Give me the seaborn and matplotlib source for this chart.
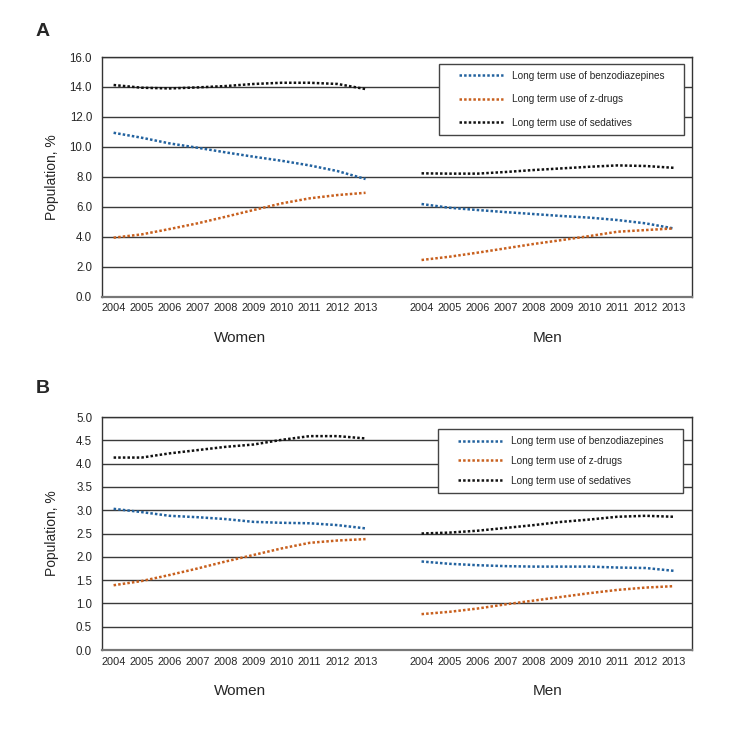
import matplotlib
matplotlib.use("Agg")
import matplotlib.pyplot as plt
import pandas as pd
import seaborn as sns
from matplotlib.patches import Rectangle

years = list(range(2004, 2014))
sexes = ["Women", "Men"]
series = [
    "Long term use of benzodiazepines",
    "Long term use of z-drugs",
    "Long term use of sedatives",
]
colors = ["#22629f", "#c8601e", "#111111"]

# panel A
a_women_benzo = [10.94, 10.61, 10.23, 9.94, 9.63, 9.34, 9.07, 8.76, 8.38, 7.85]
a_women_z = [3.93, 4.15, 4.51, 4.89, 5.33, 5.78, 6.22, 6.56, 6.78, 6.93]
a_women_sed = [14.13, 13.95, 13.90, 13.97, 14.06, 14.20, 14.28, 14.28, 14.20, 13.86]
a_men_benzo = [6.18, 5.93, 5.78, 5.64, 5.51, 5.38, 5.27, 5.11, 4.89, 4.55]
a_men_z = [2.44, 2.66, 2.93, 3.22, 3.51, 3.77, 4.04, 4.33, 4.44, 4.55]
a_men_sed = [8.23, 8.21, 8.21, 8.32, 8.45, 8.56, 8.67, 8.76, 8.72, 8.60]

# panel B
b_women_benzo = [3.03, 2.96, 2.88, 2.85, 2.81, 2.75, 2.73, 2.72, 2.68, 2.61]
b_women_z = [1.39, 1.48, 1.61, 1.75, 1.90, 2.04, 2.18, 2.30, 2.35, 2.38]
b_women_sed = [4.13, 4.13, 4.22, 4.29, 4.36, 4.41, 4.51, 4.59, 4.59, 4.54]
b_men_benzo = [1.90, 1.85, 1.82, 1.80, 1.79, 1.79, 1.79, 1.77, 1.76, 1.70]
b_men_z = [0.77, 0.82, 0.89, 0.98, 1.06, 1.14, 1.22, 1.29, 1.34, 1.37]
b_men_sed = [2.50, 2.52, 2.56, 2.62, 2.68, 2.75, 2.80, 2.86, 2.88, 2.86]


def build(values):
    rows = []
    for (sex, name), vals in values.items():
        offset = 0 if sex == "Women" else len(years) + 1
        for i, (yr, v) in enumerate(zip(years, vals)):
            rows.append({"pos": i + offset, "year": yr, "sex": sex,
                         "series": name, "value": v})
    return pd.DataFrame(rows)


df_a = build({
    ("Women", series[0]): a_women_benzo, ("Women", series[1]): a_women_z,
    ("Women", series[2]): a_women_sed, ("Men", series[0]): a_men_benzo,
    ("Men", series[1]): a_men_z, ("Men", series[2]): a_men_sed,
})
df_b = build({
    ("Women", series[0]): b_women_benzo, ("Women", series[1]): b_women_z,
    ("Women", series[2]): b_women_sed, ("Men", series[0]): b_men_benzo,
    ("Men", series[1]): b_men_z, ("Men", series[2]): b_men_sed,
})

sns.set_style("white")
plt.rcParams["font.family"] = ["Liberation Sans", "DejaVu Sans"]

fig = plt.figure(figsize=(7.38, 7.32), dpi=100)
ax_a = fig.add_axes([0.138, 0.5949, 0.800, 0.3272])
ax_b = fig.add_axes([0.138, 0.1120, 0.800, 0.3183])

# extra horizontal padding of the legend box, in pixels
LEG_XPAD = 13


def draw(ax, df, ymax, step, label, label_y, legend_xy, spacing):
    for sex in sexes:
        for name, col in zip(series, colors):
            sub = df[(df["sex"] == sex) & (df["series"] == name)]
            sns.lineplot(data=sub, x="pos", y="value", ax=ax, color=col,
                         linestyle=(0, (1, 0.85)), linewidth=1.8,
                         label=name if sex == "Women" else None)
    ax.set_xlim(-0.42, 2 * len(years) + 0.67)
    ax.set_ylim(0, ymax)
    ticks = [i * step for i in range(int(round(ymax / step)) + 1)]
    ax.set_yticks(ticks)
    ax.set_yticklabels([f"{t:.1f}" for t in ticks], fontsize=8.3)
    for t in ticks[1:]:
        ax.axhline(t, color="#3a3a3a", linewidth=1.0, zorder=0)
    positions = list(range(len(years))) + [i + len(years) + 1 for i in range(len(years))]
    ax.set_xticks(positions)
    ax.set_xticklabels([str(y) for y in years] * 2, fontsize=7.9)
    ax.tick_params(axis="x", length=0, pad=5)
    ax.tick_params(axis="y", length=0, pad=7)
    ax.set_xlabel("")
    ax.set_ylabel("Population, %", fontsize=10)
    ax.yaxis.set_label_coords(-0.073, 0.5)
    for s in ax.spines.values():
        s.set_color("#333333")
        s.set_linewidth(1.0)
    ax.spines["bottom"].set_color("#777777")
    ax.spines["bottom"].set_linewidth(1.6)
    for sex, center in zip(sexes, [4.5, len(years) + 5.5]):
        ax.annotate(sex, xy=(center, 0), xycoords=("data", "axes fraction"),
                    xytext=(0, -41), textcoords="offset pixels",
                    ha="center", va="center", fontsize=11)
    ax.text(-0.112, label_y, label, transform=ax.transAxes, fontsize=14,
            fontweight="bold", ha="left", va="center")
    leg = ax.legend(loc="upper right", bbox_to_anchor=legend_xy,
                    fontsize=7.2, frameon=False,
                    handlelength=4.4, handletextpad=0.9, borderpad=0.7,
                    labelspacing=spacing, borderaxespad=0)
    for h in leg.get_lines():
        h.set_linewidth(1.8)
    return leg


legs = [
    (ax_a, draw(ax_a, df_a, 16, 2, "A", 1.1086, (0.9864 - LEG_XPAD / 590, 0.971), 1.33)),
    (ax_b, draw(ax_b, df_b, 5, 0.5, "B", 1.1245, (0.9847 - LEG_XPAD / 590, 0.9485), 0.98)),
]

# box around each legend, wider than the legend's own padding
fig.canvas.draw()
renderer = fig.canvas.get_renderer()
for ax, leg in legs:
    bb = leg.get_window_extent(renderer)
    x0, y0 = fig.transFigure.inverted().transform((bb.x0 - LEG_XPAD, bb.y0))
    x1, y1 = fig.transFigure.inverted().transform((bb.x1 + LEG_XPAD, bb.y1))
    ax.add_patch(Rectangle((x0, y0), x1 - x0, y1 - y0, transform=fig.transFigure,
                           facecolor="white", edgecolor="#444444", linewidth=1.0,
                           zorder=4.9, clip_on=False))

fig.savefig("out.png", dpi=100)
